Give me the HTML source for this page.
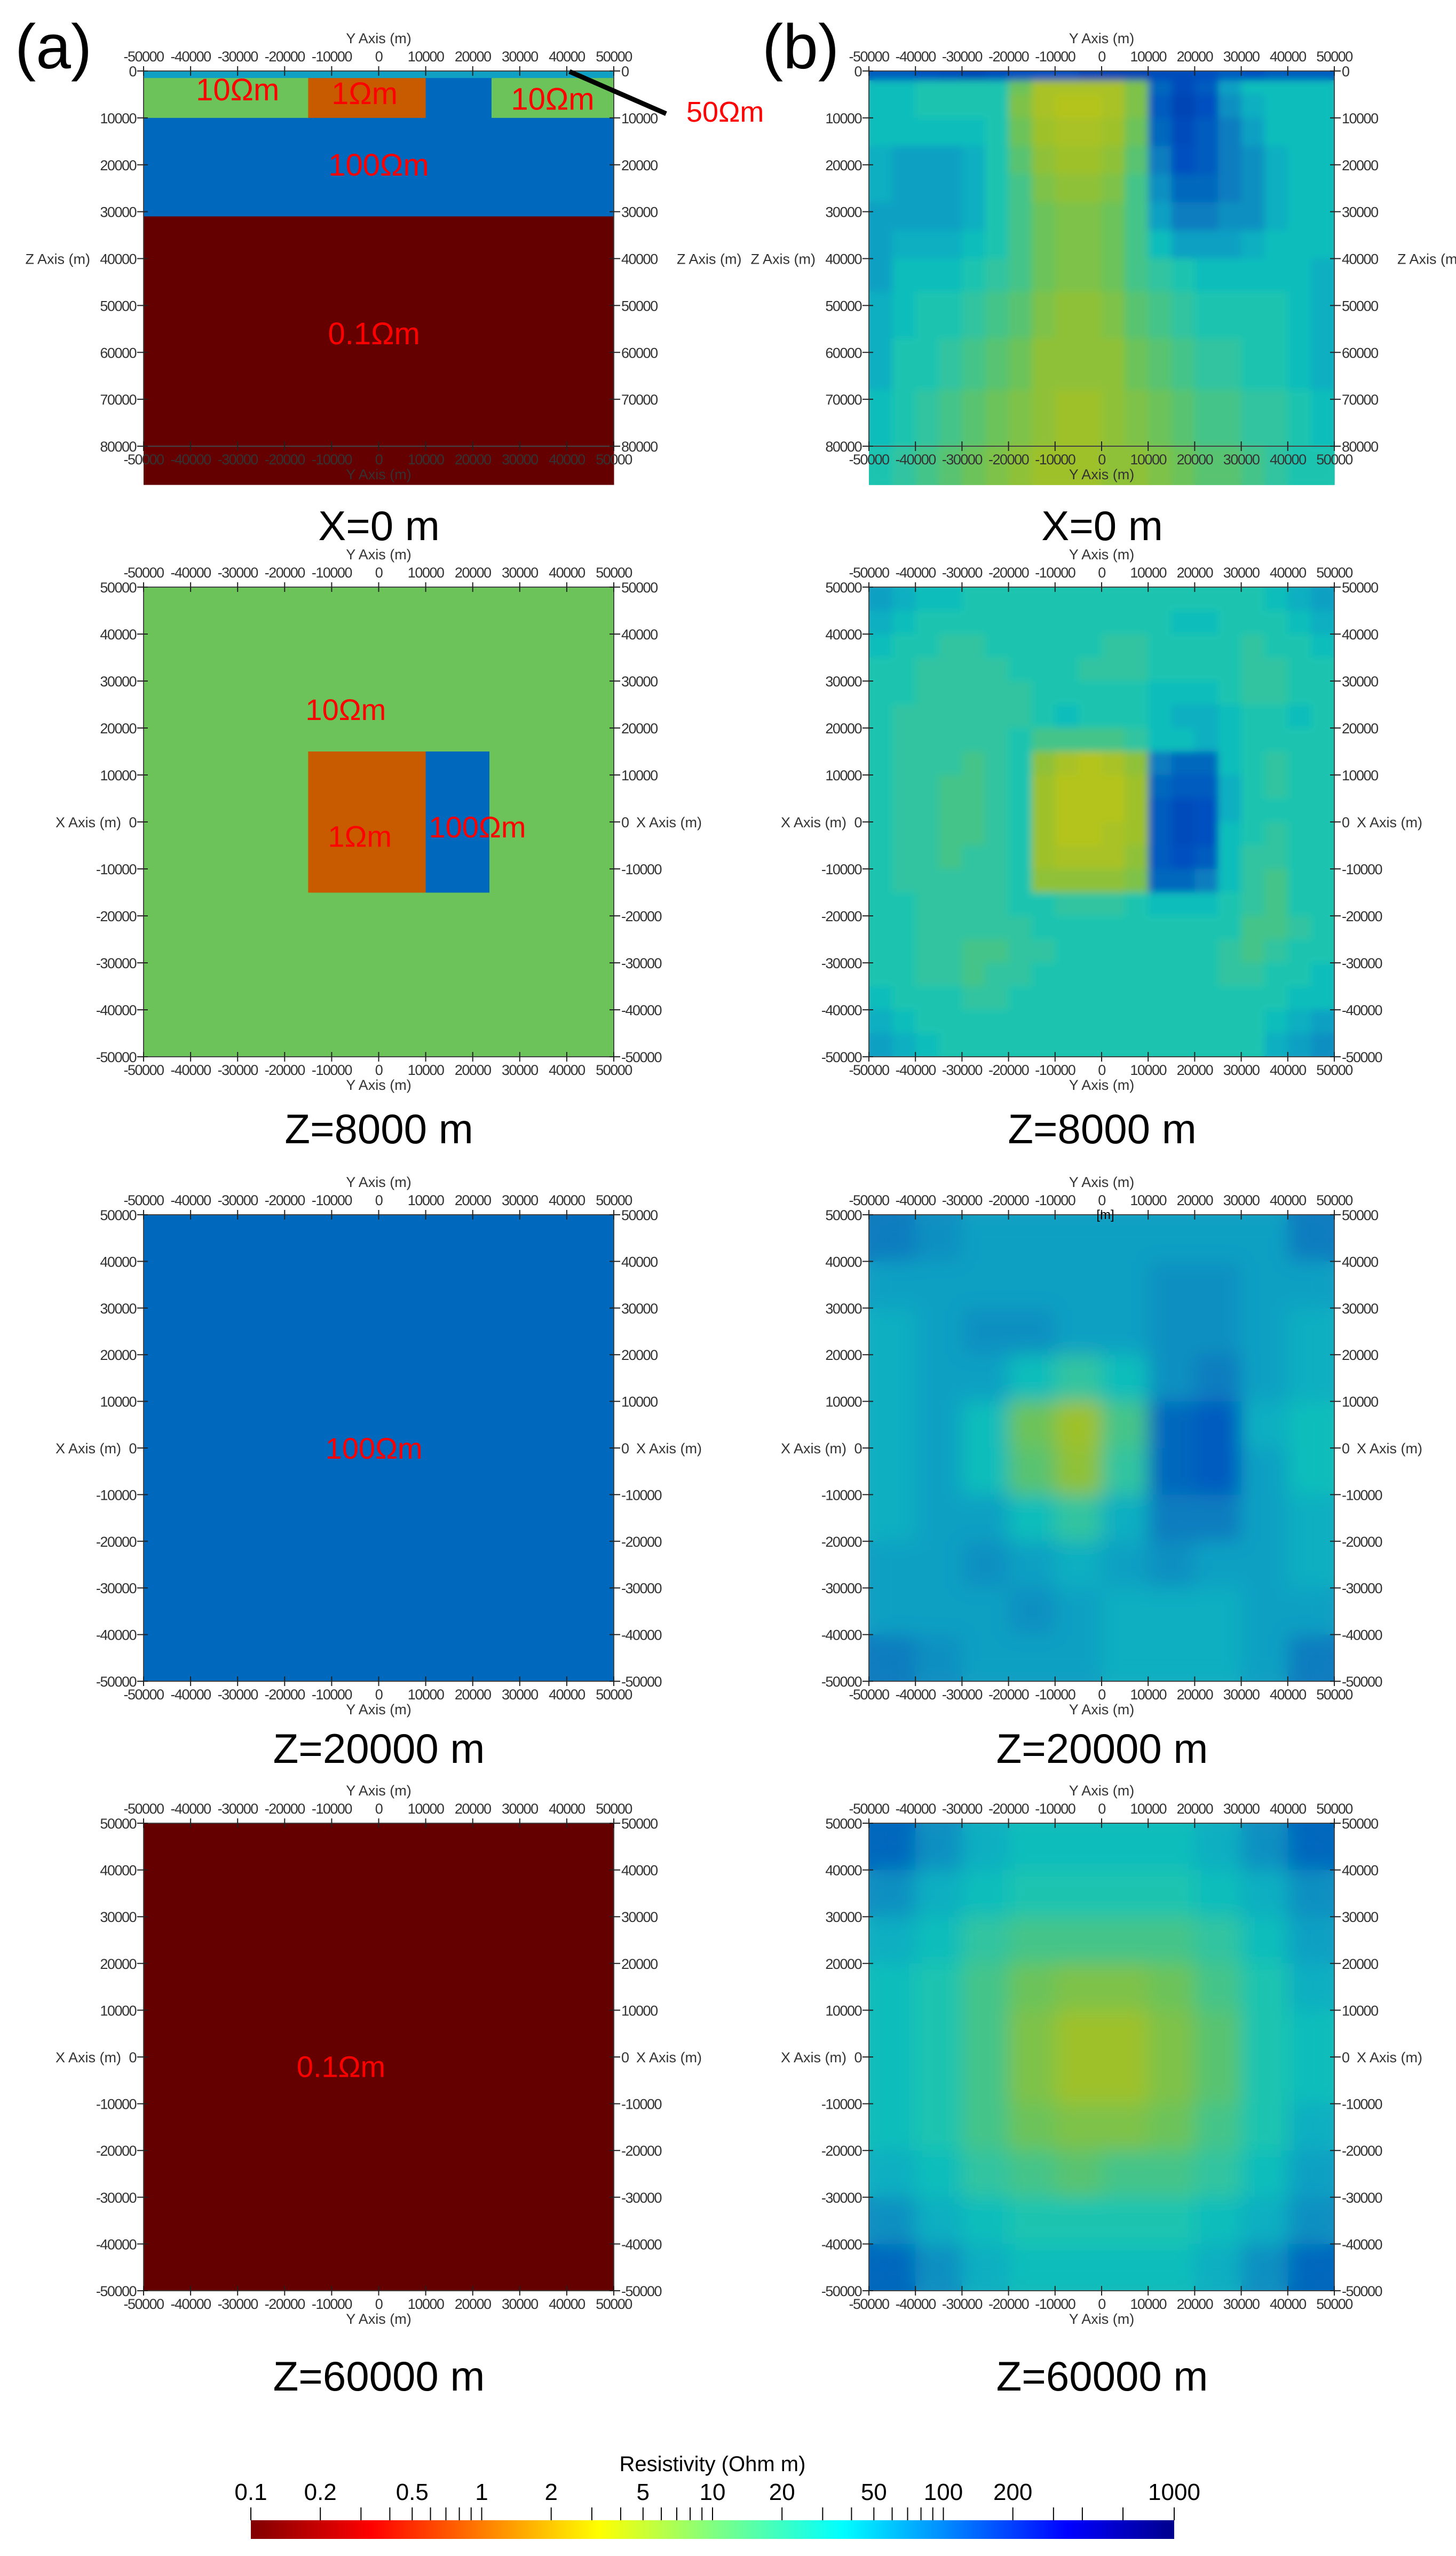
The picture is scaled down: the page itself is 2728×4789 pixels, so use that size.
<!DOCTYPE html>
<html><head><meta charset="utf-8"><style>
html,body{margin:0;padding:0;background:#fff;}
svg{display:block;font-family:"Liberation Sans",sans-serif;}
</style></head><body>
<svg id="fig" width="2728" height="4789" viewBox="0 0 2728 4789" xmlns="http://www.w3.org/2000/svg">
<defs>
<filter id="soft" x="0" y="0" width="1" height="1"><feGaussianBlur stdDeviation="7"/></filter>
<filter id="soft2" x="0" y="0" width="1" height="1"><feGaussianBlur stdDeviation="18"/></filter>
<linearGradient id="jet" x1="0" x2="1" y1="0" y2="0">
<stop offset="0" stop-color="#800000"/><stop offset="0.13" stop-color="#ff0000"/><stop offset="0.377" stop-color="#ffff00"/><stop offset="0.5" stop-color="#80ff80"/><stop offset="0.64" stop-color="#00ffff"/><stop offset="0.885" stop-color="#0000ff"/><stop offset="1" stop-color="#00008c"/>
</linearGradient>
</defs>
<text x="28" y="128" font-size="118">(a)</text>
<text x="1428" y="128" font-size="118">(b)</text>
</svg>
<script>
// ---- data ----
const modelSection = [[-50000,50000,0,1500,50],[-50000,-15000,1500,10000,10],[-15000,10000,1500,10000,1],[10000,24000,1500,10000,100],[24000,50000,1500,10000,10],[-50000,50000,10000,31000,100],[-50000,50000,31000,88200,0.1]];
const modelZ8000 = [[-50000,50000,-50000,50000,10],[-15000,10000,-15000,15000,1],[10000,23500,-15000,15000,100]];
const modelZ20000 = [[-50000,50000,-50000,50000,100]];
const modelZ60000 = [[-50000,50000,-50000,50000,0.1]];
const modelLabels1 = [["10Ωm",-30000,4000],["1Ωm",-3000,4800],["10Ωm",37000,6000],["100Ωm",0,20000],["0.1Ωm",-1000,56000]];
const secDepthEdges = [0,2000,5000,10000,16000,22000,28000,34000,40000,47000,57000,68000,80000,88200];
const invX0 = [
[21,21,22,23,24,23,22,22,22,24,24,24,23,23,22,21,22,21,21,21],
[15,15,14,14,14,14,10,6,6,6,6,9,20,23,21,17,15,15,15,15],
[15,15,14,14,14,14,9,6,5,5,6,9,21,24,22,18,16,15,15,15],
[15,15,15,15,15,14,10,7,6,6,7,10,20,23,21,19,17,15,15,15],
[16,17,17,17,16,14,11,8,7,7,8,11,19,22,21,19,18,16,15,15],
[16,17,17,17,16,14,12,9,8,8,9,12,18,20,20,19,18,16,15,15],
[17,17,17,17,16,14,12,10,9,9,10,12,17,19,19,18,18,16,15,15],
[17,16,16,16,15,14,12,10,9,9,10,12,15,17,17,17,16,15,15,15],
[17,15,15,15,14,13,12,10,9,9,10,12,13,14,15,15,15,15,15,16],
[16,15,14,14,13,12,11,9,8,8,9,11,12,13,14,14,14,14,15,16],
[16,14,14,13,12,11,10,8,8,8,8,10,11,12,13,13,14,14,15,16],
[15,14,13,12,11,10,9,8,7,7,8,9,10,11,12,12,13,13,14,15],
[14,13,12,11,10,9,8,7,7,7,8,8,9,10,11,11,12,13,14,14]];
const invZ8000 = [
[17,16,15,15,14,14,14,14,14,14,14,14,14,14,14,14,14,15,16,17],
[16,15,14,14,14,14,14,14,14,14,14,14,14,15,15,14,14,14,15,16],
[15,14,14,13,13,14,14,14,14,14,13,13,14,14,14,14,13,14,14,15],
[14,14,13,13,13,13,14,14,14,13,13,13,14,14,14,14,13,13,14,14],
[14,14,13,13,13,13,13,14,14,14,14,14,15,15,15,14,13,13,14,14],
[14,13,13,13,13,13,13,14,15,14,14,14,15,16,16,15,14,14,15,14],
[14,13,13,13,13,13,14,12,12,12,12,13,15,15,16,15,14,14,14,14],
[14,13,13,13,12,13,14,8,6,5,6,8,19,20,20,15,14,13,14,14],
[14,13,13,12,12,13,14,7,5,5,5,7,20,21,21,16,14,13,14,14],
[14,13,13,12,12,13,14,7,5,5,5,7,21,23,22,16,14,14,14,14],
[14,13,13,12,12,13,14,7,5,5,6,7,21,23,22,15,14,13,14,14],
[14,13,13,12,13,13,14,7,6,6,6,8,21,22,21,15,13,13,14,14],
[14,13,13,13,13,13,14,8,8,8,8,9,20,20,19,15,13,12,14,14],
[14,14,13,13,13,13,14,14,13,13,13,14,15,15,15,14,13,12,14,14],
[14,14,13,13,13,13,13,14,14,14,14,14,14,14,14,14,12,12,13,14],
[14,14,13,13,12,12,13,13,14,14,14,14,14,14,14,13,12,13,14,14],
[14,14,13,13,12,13,13,14,14,14,14,14,14,14,14,13,13,14,14,15],
[15,14,14,14,13,13,14,14,14,14,14,14,14,14,14,14,14,14,15,15],
[16,15,14,14,14,14,14,14,14,14,14,14,14,14,14,14,14,15,16,17],
[17,16,15,14,14,14,14,14,14,14,14,14,14,14,14,14,14,16,17,18]];
const invZ20000 = [
[19,18,17,17,17,17,17,17,17,19],
[17,17,17,17,17,17,18,18,17,17],
[16,17,18,18,17,17,18,18,17,16],
[16,17,17,15,13,15,18,19,17,16],
[16,17,15,10,7,12,20,21,16,15],
[16,17,15,11,8,13,20,21,17,15],
[16,17,17,15,13,16,19,19,17,16],
[17,17,18,17,16,17,18,17,17,16],
[17,17,17,18,17,16,16,16,17,17],
[19,18,17,17,17,16,16,16,17,19]];
const invZ60000 = [
[20,18,16,15,15,15,15,16,18,20],
[18,16,15,14,14,14,14,15,16,18],
[16,15,13,12,12,12,12,13,15,17],
[15,14,12,10,9,9,10,12,14,16],
[15,14,12,9,7,7,9,11,14,15],
[15,14,12,9,7,7,9,11,14,15],
[15,14,12,10,9,9,10,12,14,16],
[16,15,13,12,11,12,12,13,15,17],
[18,16,15,14,14,14,14,15,16,18],
[20,18,16,15,15,15,15,16,18,20]];
const yTicks = [-50000,-40000,-30000,-20000,-10000,0,10000,20000,30000,40000,50000];
const zTicks = [0,10000,20000,30000,40000,50000,60000,70000,80000];
const xTicks = [50000,40000,30000,20000,10000,0,-10000,-20000,-30000,-40000,-50000];
const cbTicks = [0.1,0.2,0.3,0.4,0.5,0.6,0.7,0.8,0.9,1,2,3,4,5,6,7,8,9,10,20,30,40,50,60,70,80,90,100,200,300,400,600,1000];
const cbLabels = [0.1,0.2,0.5,1,2,5,10,20,50,100,200,1000];

// ---- helpers ----
const NS="http://www.w3.org/2000/svg";
const svg=document.getElementById('fig');
function mk(tag,attrs,parent){const e=document.createElementNS(NS,tag);for(const k in attrs)e.setAttribute(k,attrs[k]);(parent||svg).appendChild(e);return e;}
const cmStops=[[-1,[100,0,0]],[0,[200,90,0]],[0.5,[180,196,30]],[0.75,[152,192,48]],[1,[108,195,90]],[1.3,[48,196,160]],[1.45,[16,196,184]],[1.65,[16,168,196]],[1.85,[16,136,192]],[2,[0,104,189]],[2.2,[0,80,192]],[2.5,[0,64,176]],[3,[0,24,128]]];
function cmap(lg){if(lg<=cmStops[0][0])return 'rgb('+cmStops[0][1]+')';for(let i=1;i<cmStops.length;i++){if(lg<=cmStops[i][0]){const a=cmStops[i-1],b=cmStops[i],t=(lg-a[0])/(b[0]-a[0]);return 'rgb('+a[1].map((v,j)=>Math.round(v+(b[1][j]-v)*t)).join(',')+')';}}return 'rgb('+cmStops[cmStops.length-1][1]+')';}
const LX=[269,1150], RX=[1628,2500];
const rows=[{y0:133,y1:836,kind:'sec',title:'X=0 m',ty:1012},{y0:1100,y1:1980,kind:'slice',title:'Z=8000 m',ty:2142},{y0:2276,y1:3150,kind:'slice',title:'Z=20000 m',ty:3303},{y0:3416,y1:4292,kind:'slice',title:'Z=60000 m',ty:4479}];
function yScale(p,Y){return p.x0+(Y+50000)/100000*(p.x1-p.x0);}
function zScale(p,Z){return p.y0+Z/80000*(p.y1-p.y0);}
function xScale(p,X){return p.y0+(50000-X)/100000*(p.y1-p.y0);}

function axes(p,name){
  const g=mk('g',{},svg);
  
  
  const fs=27, col='#333';
  mk('line',{x1:p.x0,x2:p.x1,y1:p.y0,y2:p.y0,stroke:'#444','stroke-width':2},g);
  mk('line',{x1:p.x0,x2:p.x1,y1:p.y1,y2:p.y1,stroke:'#444','stroke-width':2},g);
  mk('line',{x1:p.x0,x2:p.x0,y1:p.y0,y2:p.y1,stroke:'#444','stroke-width':2},g);
  mk('line',{x1:p.x1,x2:p.x1,y1:p.y0,y2:p.y1,stroke:'#444','stroke-width':2},g);
  yTicks.forEach(v=>{const x=yScale(p,v);
    mk('line',{x1:x,x2:x,y1:p.y0-9,y2:p.y0+9,stroke:'#222','stroke-width':2},g);
    mk('line',{x1:x,x2:x,y1:p.y1-9,y2:p.y1+9,stroke:'#222','stroke-width':2},g);
    const t1=mk('text',{x:x,y:p.y0-18,'font-size':fs,'text-anchor':'middle',fill:col,'letter-spacing':'-1.5'},g);t1.textContent=v;
    const t2=mk('text',{x:x,y:p.y1+34,'font-size':fs,'text-anchor':'middle',fill:col,'letter-spacing':'-1.5'},g);t2.textContent=v;});
  const cx=(p.x0+p.x1)/2;
  const a1=mk('text',{x:cx,y:p.y0-52,'font-size':fs,'text-anchor':'middle',fill:col},g);a1.textContent='Y Axis (m)';
  const a2=mk('text',{x:cx,y:p.y1+62,'font-size':fs,'text-anchor':'middle',fill:col},g);a2.textContent='Y Axis (m)';
  const vt = p.kind==='sec'?zTicks:xTicks, vs = p.kind==='sec'?zScale:xScale, lab = p.kind==='sec'?'Z Axis (m)':'X Axis (m)';
  vt.forEach(v=>{const y=vs(p,v);
    mk('line',{x1:p.x0-12,x2:p.x0+8,y1:y,y2:y,stroke:'#222','stroke-width':2},g);
    mk('line',{x1:p.x1-8,x2:p.x1+12,y1:y,y2:y,stroke:'#222','stroke-width':2},g);
    const t1=mk('text',{x:p.x0-14,y:y+10,'font-size':fs,'text-anchor':'end',fill:col,'letter-spacing':'-1.5'},g);t1.textContent=v;
    const t2=mk('text',{x:p.x1+14,y:y+10,'font-size':fs,'text-anchor':'start',fill:col,'letter-spacing':'-1.5'},g);t2.textContent=v;});
  const my=p.kind==='sec'?zScale(p,40000):xScale(p,0);
  if(p.kind==='sec'){
    const l1=mk('text',{x:p.x0-100,y:my+10,'font-size':fs,'text-anchor':'end',fill:col},g);l1.textContent=lab;
    const l2=mk('text',{x:p.x1+118,y:my+10,'font-size':fs,'text-anchor':'start',fill:col},g);l2.textContent=lab;
  } else {
    const l1=mk('text',{x:p.x0-42,y:my+10,'font-size':fs,'text-anchor':'end',fill:col},g);l1.textContent=lab;
    const l2=mk('text',{x:p.x1+42,y:my+10,'font-size':fs,'text-anchor':'start',fill:col},g);l2.textContent=lab;
  }
}
function drawModel(p,list,isSec,name){
  const g=mk('g',{},svg);
  
  
  list.forEach(r=>{
    const x=yScale(p,r[0]), w=yScale(p,r[1])-x;
    let y,h;
    if(isSec){y=zScale(p,r[2]);h=zScale(p,r[3])-y;} else {y=xScale(p,r[3]);h=xScale(p,r[2])-y;}
    const e=mk('rect',{x:x,y:y,width:w+0.5,height:h+0.5,fill:cmap(Math.log10(r[4]))},g);
    
    
  });
}
function drawGrid(p,grid,rowEdgesPix,name,filt){
  const nc=grid[0].length;
  [null,filt].forEach(f=>{
    const g=mk('g',f?{filter:'url(#'+f+')'}:{},svg);
    
    
    grid.forEach((row,i)=>{row.forEach((v,j)=>{
      const x=yScale(p,-50000+j*100000/nc), x2=yScale(p,-50000+(j+1)*100000/nc);
      const e=mk('rect',{x:x,y:rowEdgesPix[i],width:x2-x+0.6,height:rowEdgesPix[i+1]-rowEdgesPix[i]+0.6,fill:cmap(v/10)},g);
      
      
    });});
  });
}
function sliceEdges(p,n){const a=[];for(let i=0;i<=n;i++)a.push(xScale(p,50000-i*100000/n));return a;}
function txt(x,y,s,fs,fill,name,anchor){const t=mk('text',{x:x,y:y,'font-size':fs,fill:fill,'text-anchor':anchor||'middle'});t.textContent=s;return t;}

const pa1={x0:LX[0],x1:LX[1],y0:rows[0].y0,y1:rows[0].y1,kind:'sec'};
const pb1={x0:RX[0],x1:RX[1],y0:rows[0].y0,y1:rows[0].y1,kind:'sec'};
drawModel(pa1,modelSection,true,'model-section-x0');
drawGrid(pb1,invX0,secDepthEdges.map(z=>zScale(pb1,z)),'inversion-section-x0','soft');
axes(pa1,'a1');axes(pb1,'b1');
modelLabels1.forEach(l=>txt(yScale(pa1,l[1]),zScale(pa1,l[2])+20,l[0],58,'#ff0000','model-label'));
const ln=mk('line',{x1:1067,y1:134,x2:1248,y2:213,stroke:'#000','stroke-width':9});

txt(1286,228,'50Ωm',54,'#ff0000','callout-50-ohm','start');
const mods=[modelZ8000,modelZ20000,modelZ60000], invs=[invZ8000,invZ20000,invZ60000];
const labs=[[["10Ωm",-7000,24000],["1Ωm",-4000,-3000],["100Ωm",21000,-1000]],[["100Ωm",-1000,0]],[["0.1Ωm",-8000,-2000]]];
for(let k=1;k<4;k++){
  const pa={x0:LX[0],x1:LX[1],y0:rows[k].y0,y1:rows[k].y1,kind:'slice'};
  const pb={x0:RX[0],x1:RX[1],y0:rows[k].y0,y1:rows[k].y1,kind:'slice'};
  drawModel(pa,mods[k-1],false,'model-slice-'+k);
  drawGrid(pb,invs[k-1],sliceEdges(pb,invs[k-1].length),'inversion-slice-'+k,k===1?'soft':'soft2');
  axes(pa,'a'+(k+1));axes(pb,'b'+(k+1));
  labs[k-1].forEach(l=>txt(yScale(pa,l[1]),xScale(pa,l[2])+20,l[0],56,'#ff0000','model-label'));
}
txt(2071,2284,'[m]',24,'#000','unit-mark');
rows.forEach((r,i)=>{txt(710,r.ty,r.title,78,'#000','title-a'+(i+1));txt(2065,r.ty,r.title,78,'#000','title-b'+(i+1));});
const CB={x0:470,x1:2200,y0:4722,y1:4757};
function cbX(v){return CB.x0+(Math.log10(v)+1)/4*(CB.x1-CB.x0);}
const bar=mk('rect',{x:CB.x0,y:CB.y0,width:CB.x1-CB.x0,height:CB.y1-CB.y0,fill:'url(#jet)'});

cbTicks.forEach(v=>{const e=mk('line',{x1:cbX(v),x2:cbX(v),y1:4698,y2:CB.y0,stroke:'#000','stroke-width':2});});
cbLabels.forEach(v=>txt(cbX(v),4684,String(v),44,'#000','colorbar-label'));
txt(1335,4630,'Resistivity (Ohm m)',40,'#000','colorbar-title');
</script>
</body></html>
